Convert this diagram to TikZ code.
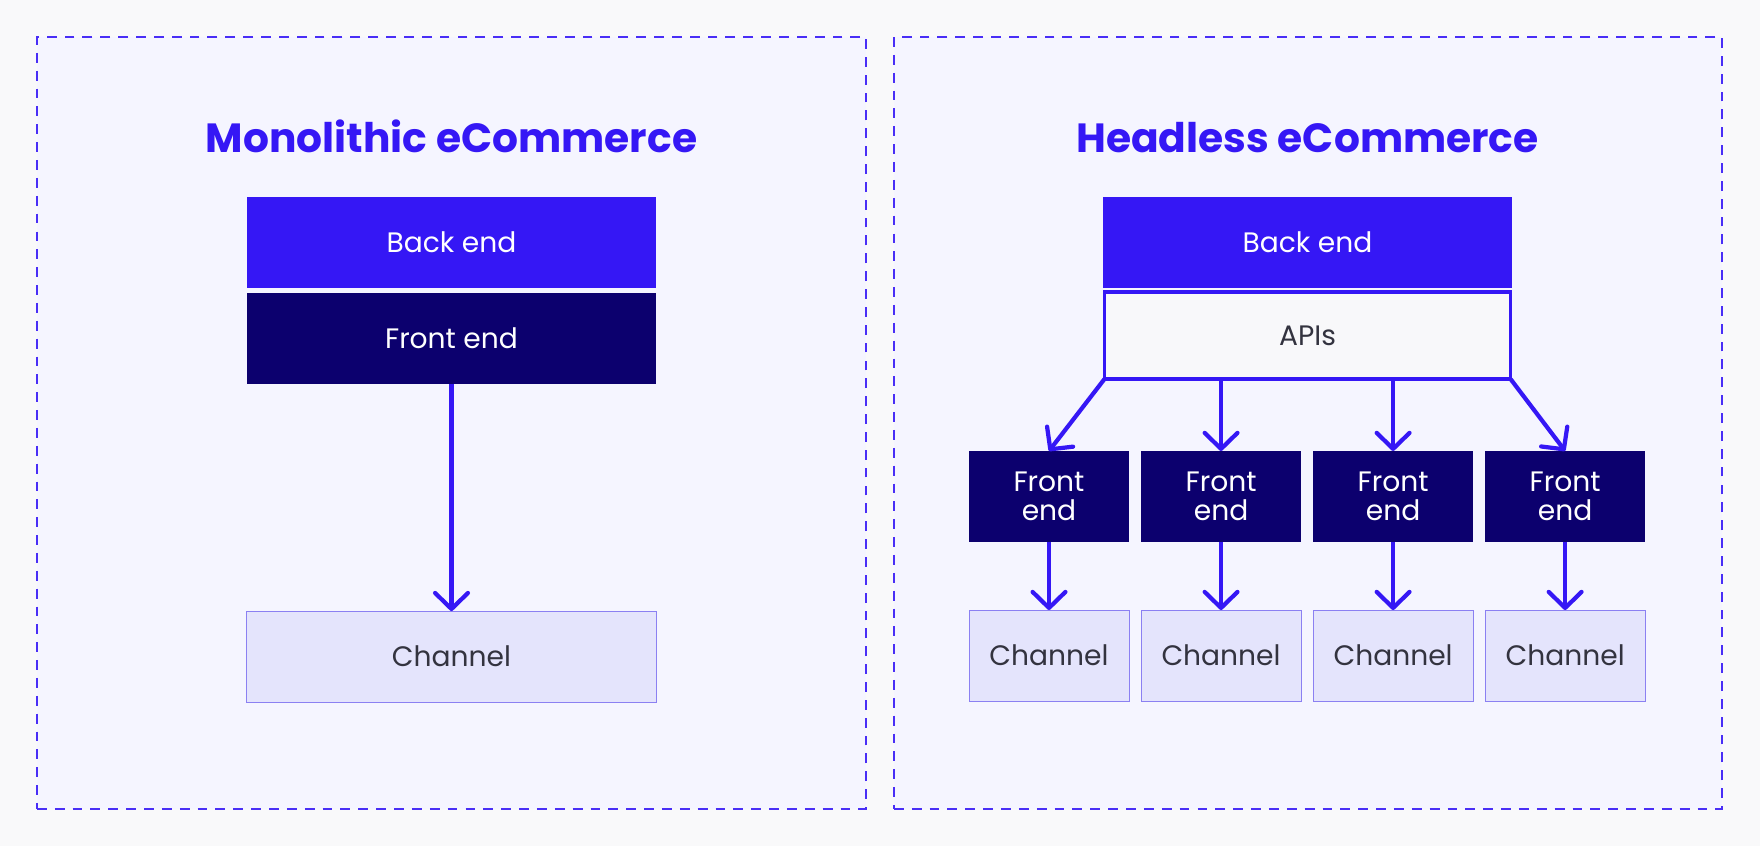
\documentclass[tikz,border=0pt]{standalone}
\usepackage{fontspec}
\setmainfont{Poppins}
\usetikzlibrary{arrows.meta, positioning}
\definecolor{page}{HTML}{F9F9FA}
\definecolor{panelbg}{HTML}{F5F5FF}
\definecolor{brand}{HTML}{3517F5}
\definecolor{navy}{HTML}{0C006E}
\definecolor{chanbg}{HTML}{E4E4FC}
\definecolor{chanline}{HTML}{8B80F2}
\definecolor{ink}{HTML}{33333F}
\definecolor{apibg}{HTML}{F8F8FA}
\tikzset{
    box/.style={rectangle, minimum height=2.275cm, align=center, inner sep=2pt,
                outer sep=0pt, font=\fontsize{20}{20.6}\selectfont},
    backbox/.style={box, fill=brand, text=white, minimum width=10.225cm},
    frontbox/.style={box, fill=navy, text=white},
    chanbox/.style={box, fill=chanbg, draw=chanline, line width=0.7pt, text=ink},
    apibox/.style={box, fill=apibg, draw=brand, line width=2.2pt, text=ink,
                   minimum width=10.15cm, minimum height=2.175cm},
    panelbox/.style={rectangle, fill=panelbg, draw=brand!90, line width=1.4pt,
                     dash pattern=on 7pt off 5.7pt, outer sep=0pt},
    title/.style={font=\bfseries\fontsize{29}{29}\selectfont, text=brand, anchor=base},
    arr/.style={-{Straight Barb[length=0.4cm, width=0.82cm, round]}, line width=3pt, color=brand},
}
\begin{document}
\begin{tikzpicture}[x=0.025cm, y=-0.025cm]

  \fill[page] (0,0) rectangle (1760,846);

  % the two panels
  \node[panelbox, minimum width=20.725cm, minimum height=19.3cm] (mono) at (451.5,423) {};
  \node[panelbox, minimum width=20.7cm, minimum height=19.3cm] (head) at (1308,423) {};

  \node[title] (ltitle) at (451.5,153) {Monolithic eCommerce};
  \node[title] (rtitle) at (1307.5,153) {Headless eCommerce};

  % monolithic
  \node[backbox] (lback) at (451.5,242.5) {Back end};
  \node[frontbox, fill=navy, below=0.125cm of lback, minimum width=10.225cm] (lfront) {Front end};
  \node[chanbox, below=5.675cm of lfront, minimum width=10.225cm] (lchan) {Channel};

  \draw[arr] (lfront) -- (lchan);

  % headless
  \node[backbox] (rback) at (1307.5,242.5) {Back end};
  \node[apibox, below=0.1cm of rback] (apis) {APIs};

  \node[frontbox, minimum width=4cm] (rfe1) at (1049,496.5) {Front\\end};
  \node[frontbox, minimum width=4cm, right=0.3cm of rfe1] (rfe2) {Front\\end};
  \node[frontbox, minimum width=4cm, right=0.3cm of rfe2] (rfe3) {Front\\end};
  \node[frontbox, minimum width=4cm, right=0.3cm of rfe3] (rfe4) {Front\\end};

  \node[chanbox, minimum width=4cm, below=1.7cm of rfe1] (rch1) {Channel};
  \node[chanbox, minimum width=4cm, below=1.7cm of rfe2] (rch2) {Channel};
  \node[chanbox, minimum width=4cm, below=1.7cm of rfe3] (rch3) {Channel};
  \node[chanbox, minimum width=4cm, below=1.7cm of rfe4] (rch4) {Channel};

  \draw[arr] (apis.south west) -- (rfe1.north);
  \draw[arr] (rfe2.north |- apis.south) -- (rfe2.north);
  \draw[arr] (rfe3.north |- apis.south) -- (rfe3.north);
  \draw[arr] (apis.south east) -- (rfe4.north);

  \draw[arr] (rfe1) -- (rch1);
  \draw[arr] (rfe2) -- (rch2);
  \draw[arr] (rfe3) -- (rch3);
  \draw[arr] (rfe4) -- (rch4);

\end{tikzpicture}
\end{document}
